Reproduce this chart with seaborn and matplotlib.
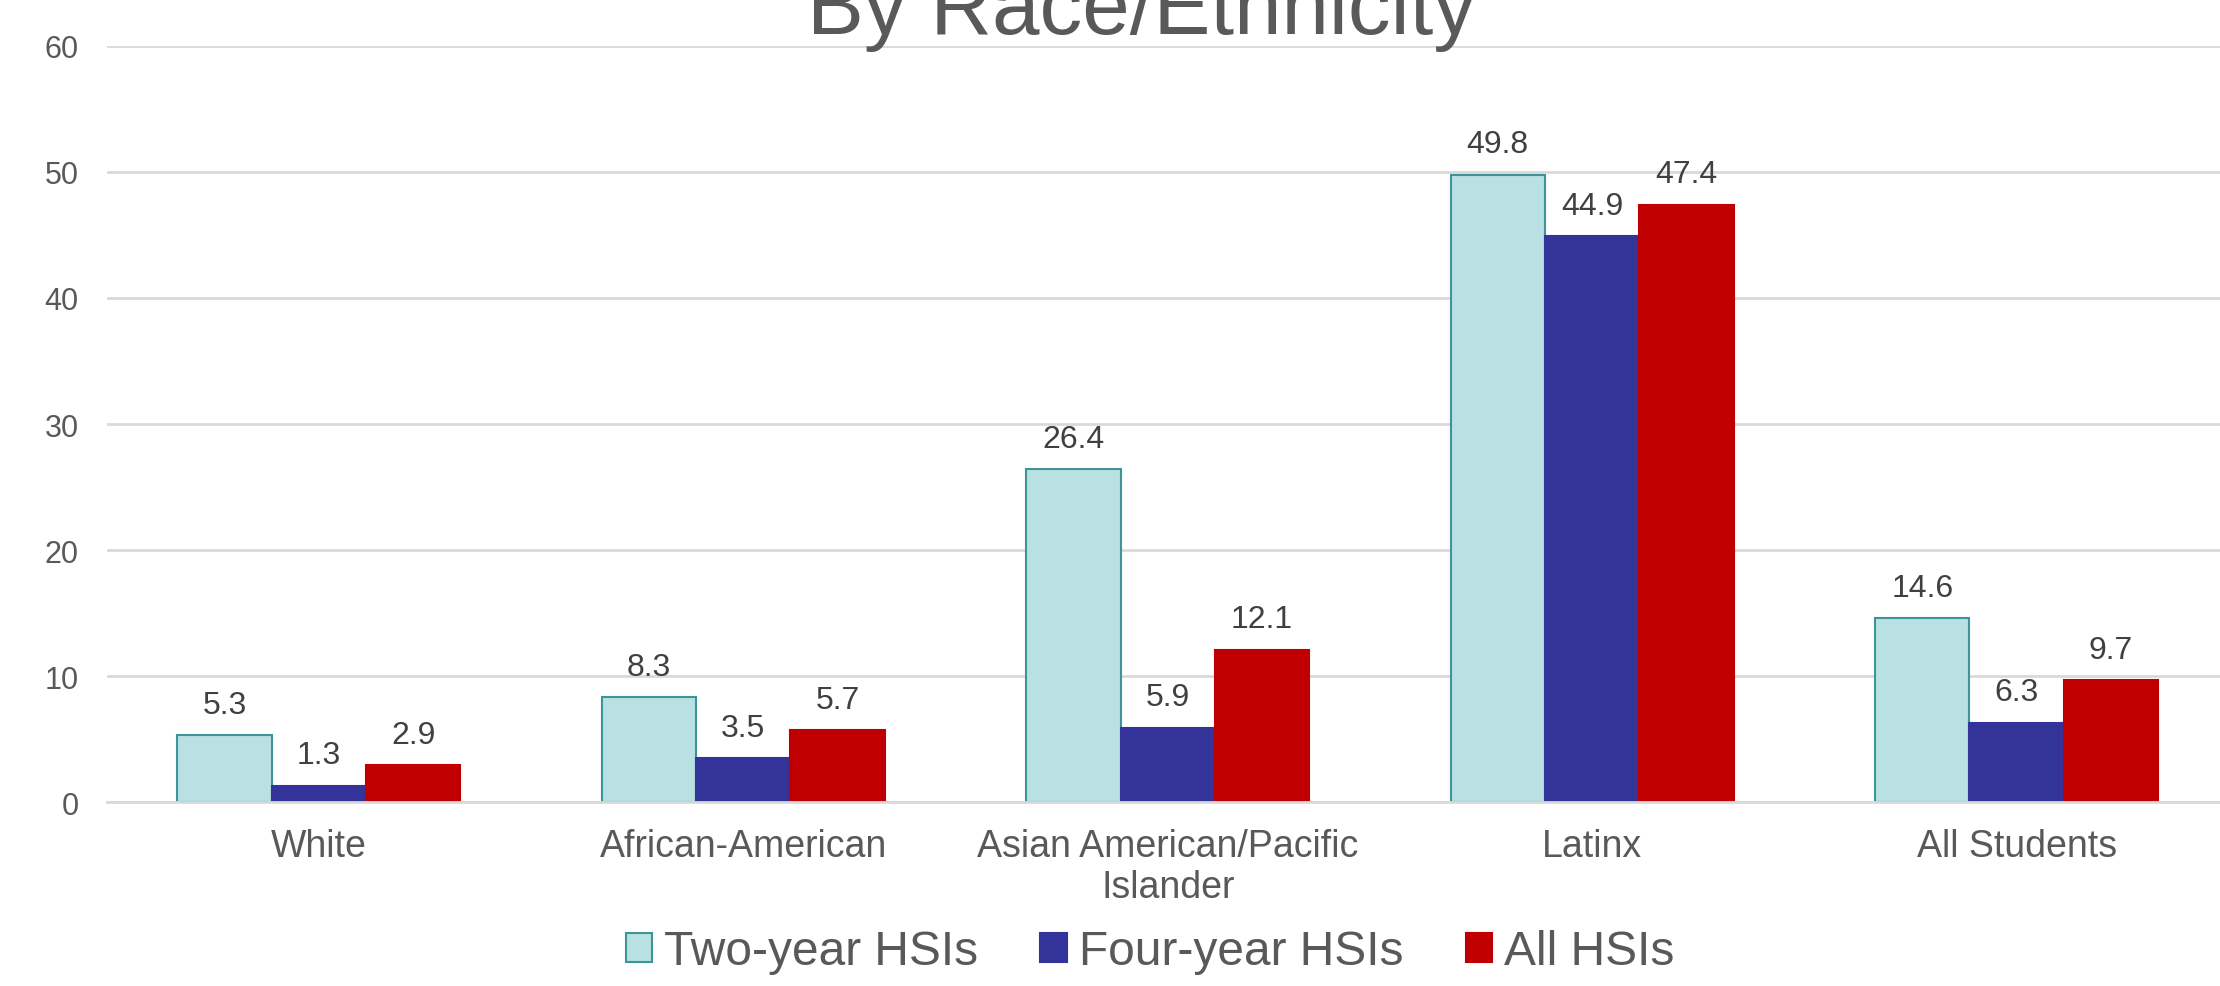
import numpy as np
import pandas as pd
import seaborn as sns
import matplotlib.pyplot as plt

# data
categories = ["White", "African-American", "Asian American/Pacific\nIslander", "Latinx", "All Students"]
series = ["Two-year HSIs", "Four-year HSIs", "All HSIs"]
two_year = [5.3, 8.3, 26.4, 49.8, 14.6]
four_year = [1.3, 3.5, 5.9, 44.9, 6.3]
all_hsis = [2.9, 5.7, 12.1, 47.4, 9.7]

colors = ["#B9E0E3", "#333399", "#C00000"]
edges = ["#3E9499", "#333399", "#C00000"]
text_grey = "#595959"

df = pd.DataFrame({
    "category": categories * 3,
    "series": np.repeat(series, len(categories)),
    "value": two_year + four_year + all_hsis,
})

sns.set_style("white")
plt.rcParams["font.family"] = ["Liberation Sans", "DejaVu Sans"]

fig = plt.figure(figsize=(22.2, 9.87), dpi=100)
ax = fig.add_axes([0.048, 0.1864, 0.956, 0.766])

sns.barplot(data=df, x="category", y="value", hue="series", order=categories,
            hue_order=series, palette=colors, saturation=1, width=0.667,
            errorbar=None, ax=ax)

for cont, ec in zip(ax.containers, edges):
    for bar in cont:
        bar.set_edgecolor(ec)
        bar.set_linewidth(1.5)
    ax.bar_label(cont, fmt="%.1f", padding=11, fontsize=23, color="#404040")

ax.set_ylim(0, 60)
ax.set_yticks(range(0, 61, 10))
ax.set_xlim(-0.5, 4.5)
ax.yaxis.grid(True, color="#D9D9D9", linewidth=2)
ax.set_axisbelow(True)
for s in ["top", "right", "left"]:
    ax.spines[s].set_visible(False)
ax.spines["bottom"].set_color("#D9D9D9")
ax.spines["bottom"].set_linewidth(2)
ax.tick_params(axis="x", length=0, labelsize=27, colors=text_grey, pad=19)
ax.tick_params(axis="y", length=0, labelsize=22, colors=text_grey, pad=20)
for lbl in ax.get_xticklabels():
    lbl.set_linespacing(1.15)
ax.set_xlabel("")
ax.set_ylabel("")

fig.text(0.514, 1 - 34 / 987, "By Race/Ethnicity", ha="center", va="baseline",
         fontsize=61.5, color=text_grey)

ax.legend_.remove()
handles = [plt.Rectangle((0, 0), 1, 1, facecolor=c, edgecolor=e, linewidth=1.5)
           for c, e in zip(colors, edges)]
fig.legend(handles, series, loc="center", bbox_to_anchor=(0.518, 1 - 953 / 987),
           ncol=3, frameon=False, fontsize=34.5, labelcolor=text_grey,
           handlelength=0.55, handleheight=0.55, handletextpad=0.25, columnspacing=1.3)

fig.savefig("out.png", dpi=100)
